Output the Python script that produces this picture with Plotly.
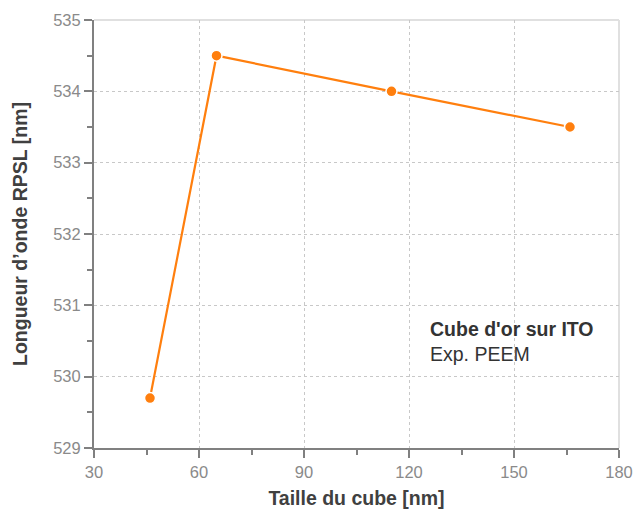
import plotly.graph_objects as go

# Resonance wavelength of gold cubes on ITO vs. cube size
cube_size_nm = [46, 65, 115, 166]
rpsl_wavelength_nm = [529.7, 534.5, 534.0, 533.5]

x_ticks = [30, 60, 90, 120, 150, 180]
y_ticks = [529, 530, 531, 532, 533, 534, 535]

orange = "#ff7f0e"
axis_gray = "#808080"
grid_gray = "#c8c8c8"
font_family = "Liberation Sans, Arial, sans-serif"

fig = go.Figure()
fig.add_trace(go.Scatter(
    x=cube_size_nm,
    y=rpsl_wavelength_nm,
    mode="lines+markers",
    line=dict(color=orange, width=2.2),
    marker=dict(color=orange, size=11, line=dict(color="white", width=1.5)),
    showlegend=False,
    cliponaxis=False,
))

common_axis = dict(
    showline=True,
    linecolor=axis_gray,
    linewidth=2,
    ticks="outside",
    ticklen=8,
    tickwidth=2,
    tickcolor=axis_gray,
    tickfont=dict(family=font_family, size=16.5, color="#8a8a8a"),
    showgrid=True,
    gridcolor=grid_gray,
    griddash="dot",
    gridwidth=1,
    zeroline=False,
)

fig.update_xaxes(
    **common_axis,
    range=[30, 180],
    tickvals=x_ticks,
    minor=dict(ticks="outside", dtick=15, ticklen=5, tickwidth=2,
               tickcolor=axis_gray, showgrid=False),
    title=dict(text="<b>Taille du cube [nm]</b>",
               font=dict(family=font_family, size=19.5, color="#404040"),
               standoff=12),
)
fig.update_yaxes(
    **common_axis,
    range=[529, 535],
    tickvals=y_ticks,
    minor=dict(ticks="outside", dtick=0.5, ticklen=5, tickwidth=2,
               tickcolor=axis_gray, showgrid=False),
    title=dict(text="<b>Longueur d’onde RPSL [nm]</b>",
               font=dict(family=font_family, size=19.5, color="#404040"),
               standoff=20),
)

# Light frame on the top and right edges of the plot area
fig.add_shape(type="line", xref="paper", yref="paper", x0=0, x1=1, y0=1, y1=1,
              line=dict(color="#e0e0e0", width=2), layer="below")
fig.add_shape(type="line", xref="paper", yref="paper", x0=1, x1=1, y0=0, y1=1,
              line=dict(color="#e0e0e0", width=2), layer="below")

fig.add_annotation(
    xref="x", yref="y", x=125.5, y=530.85,
    xanchor="left", yanchor="top", showarrow=False, align="left",
    text="<b>Cube d'or sur ITO</b><br>Exp. PEEM",
    font=dict(family=font_family, size=19.5, color="#333333"),
)

fig.update_layout(
    width=633,
    height=510,
    margin=dict(l=94, r=14, t=20, b=62, autoexpand=False),
    paper_bgcolor="white",
    plot_bgcolor="white",
    font=dict(family=font_family),
)

fig.write_html("out.html")
